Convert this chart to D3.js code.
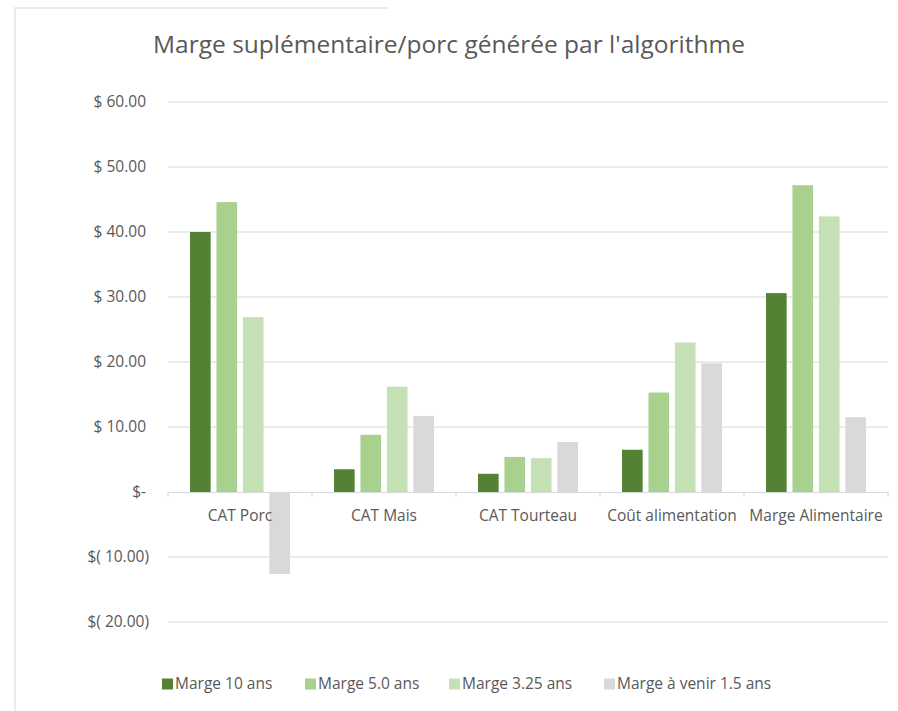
<!DOCTYPE html>
<html>
<head>
  <meta charset="utf-8"/>
  <title>Marge suplémentaire/porc</title>
  <script src="https://d3js.org/d3.v7.min.js"></script>
  <style>
    html, body {
      margin: 0;
      padding: 0;
      width: 100%;
      height: 100%;
      overflow: hidden;
      background: #fff;
    }
    svg {
      display: block;
      font-family: "Open Sans", sans-serif;
    }
    .grid line {
      stroke: #d9d9d9;
      stroke-width: 1.2px;
    }
    .label {
      fill: #595959;
      font-size: 15.5px;
    }
  </style>
</head>
<body>
  <div id="chart"></div>

  <script>
    // categories and series
    const categories = ["CAT Porc", "CAT Mais", "CAT Tourteau", "Coût alimentation", "Marge Alimentaire"];
    const seriesNames = ["Marge 10 ans", "Marge 5.0 ans", "Marge 3.25 ans", "Marge à venir 1.5 ans"];
    const marge10   = [40.0, 3.5, 2.8, 6.5, 30.6];
    const marge5    = [44.6, 8.8, 5.4, 15.3, 47.2];
    const marge325  = [26.9, 16.2, 5.2, 23.0, 42.4];
    const marge15   = [-12.6, 11.7, 7.7, 19.8, 11.5];
    const yTicks = [60, 50, 40, 30, 20, 10, 0, -10, -20];
    const colors = ["#548235", "#a9d18e", "#c5e0b4", "#d9d9d9"];

    const seriesValues = [marge10, marge5, marge325, marge15];

    const width = 898, height = 711;
    const margin = {top: 102, right: 10, bottom: 89, left: 168};

    const svg = d3.select("#chart")
      .append("svg")
      .attr("width", width)
      .attr("height", height);

    // faint frame of the pasted chart
    svg.append("line")
      .attr("x1", 14).attr("y1", 8).attr("x2", 388).attr("y2", 8)
      .attr("stroke", "#e3e3e3").attr("stroke-width", 1.5);
    svg.append("line")
      .attr("x1", 15).attr("y1", 8).attr("x2", 15).attr("y2", height)
      .attr("stroke", "#e3e3e3").attr("stroke-width", 1.5);

    // title
    svg.append("text")
      .attr("x", 449)
      .attr("y", 53)
      .attr("text-anchor", "middle")
      .attr("fill", "#595959")
      .style("font-size", "24.5px")
      .text("Marge suplémentaire/porc générée par l'algorithme");

    const x0 = d3.scaleBand()
      .domain(categories)
      .range([margin.left, width - margin.right]);

    const x1 = d3.scaleBand()
      .domain(seriesNames)
      .range([22, x0.bandwidth() - 22])
      .paddingInner(0.22);

    const y = d3.scaleLinear()
      .domain([-20, 60])
      .range([height - margin.bottom, margin.top]);

    // gridlines
    svg.append("g")
      .attr("class", "grid")
      .selectAll("line")
      .data(yTicks.filter(d => d !== 0))
      .enter().append("line")
      .attr("x1", margin.left)
      .attr("x2", width - margin.right)
      .attr("y1", d => y(d))
      .attr("y2", d => y(d));

    // y labels in accounting format
    const fmt = d => {
      if (d === 0) return "$-";
      if (d < 0) return "$( " + d3.format(".2f")(-d) + ")";
      return "$ " + d3.format(".2f")(d);
    };
    svg.append("g")
      .selectAll("text")
      .data(yTicks)
      .enter().append("text")
      .attr("class", "label")
      .attr("x", d => d < 0 ? 149 : 146)
      .attr("y", d => y(d))
      .attr("dy", "0.35em")
      .attr("text-anchor", "end")
      .text(fmt);

    // bars
    const groups = svg.append("g")
      .selectAll("g")
      .data(categories)
      .enter().append("g")
      .attr("transform", d => `translate(${x0(d)},0)`);

    groups.selectAll("rect")
      .data((c, i) => seriesNames.map((s, j) => ({series: s, value: seriesValues[j][i], color: colors[j]})))
      .enter().append("rect")
      .attr("x", d => x1(d.series))
      .attr("width", x1.bandwidth())
      .attr("y", d => y(Math.max(0, d.value)))
      .attr("height", d => Math.abs(y(d.value) - y(0)))
      .attr("fill", d => d.color);

    // category axis at zero
    const xAxis = svg.append("g")
      .attr("transform", `translate(0,${y(0)})`)
      .call(d3.axisBottom(x0).tickSize(0).tickFormat(""));
    xAxis.select(".domain").attr("stroke", "#d9d9d9").attr("stroke-width", 1.2);
    xAxis.selectAll(".tick").remove();

    // small tick marks between categories
    const tickXs = categories.map(c => x0(c)).concat([width - margin.right]);
    svg.append("g")
      .selectAll("line")
      .data(tickXs)
      .enter().append("line")
      .attr("x1", d => d).attr("x2", d => d)
      .attr("y1", y(0)).attr("y2", y(0) + 5)
      .attr("stroke", "#d9d9d9").attr("stroke-width", 1.2);

    svg.append("g")
      .selectAll("text")
      .data(categories)
      .enter().append("text")
      .attr("class", "label")
      .attr("x", d => x0(d) + x0.bandwidth() / 2)
      .attr("y", y(0) + 29)
      .attr("text-anchor", "middle")
      .text(d => d);

    // legend
    const legendX = [162, 305, 449, 604];
    const legend = svg.append("g")
      .attr("transform", "translate(0,684)");
    const item = legend.selectAll("g")
      .data(seriesNames)
      .enter().append("g")
      .attr("transform", (d, i) => `translate(${legendX[i]},0)`);
    item.append("rect")
      .attr("y", -5.5)
      .attr("width", 11)
      .attr("height", 11)
      .attr("fill", (d, i) => colors[i]);
    item.append("text")
      .attr("class", "label")
      .attr("x", 13)
      .attr("dy", "0.35em")
      .text(d => d);
  </script>
</body>
</html>
